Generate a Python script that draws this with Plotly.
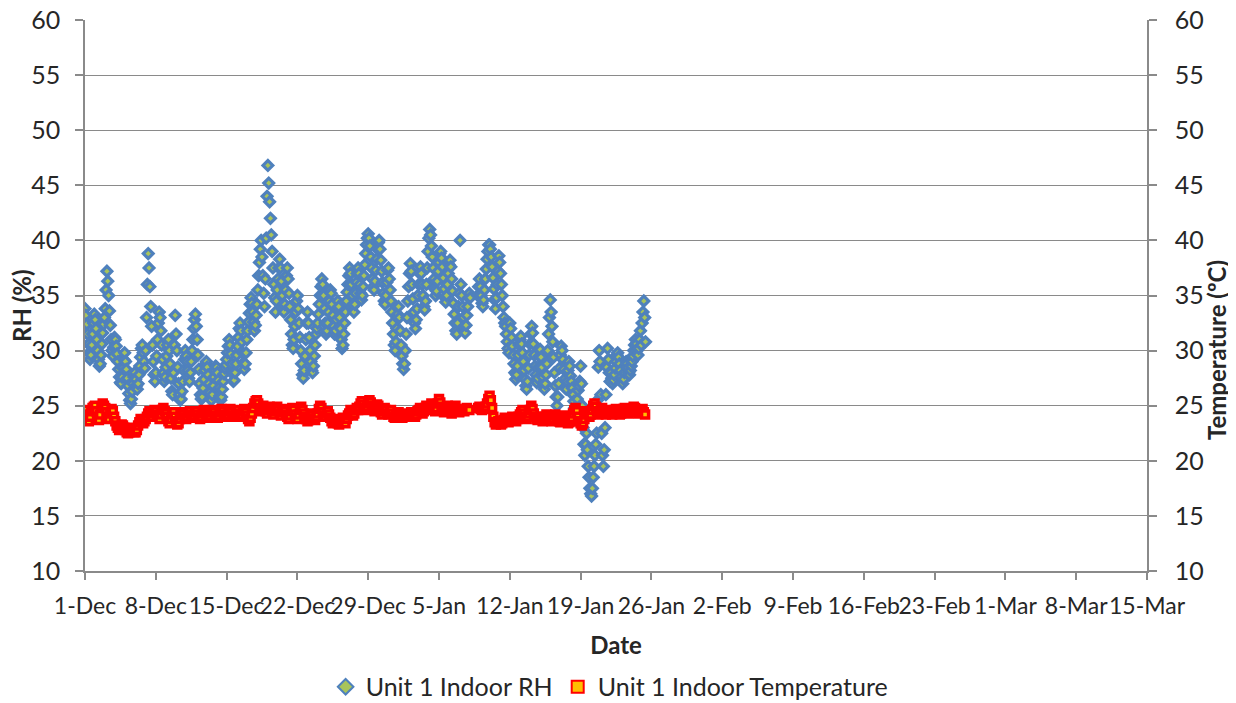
import pandas as pd
import plotly.graph_objects as go

# Unit 1 Indoor RH (%), 2-hourly readings starting 1-Dec-2011, grouped by week
rh_wk1 = [33.8, 33.2, 32.4, 31.5, 30.6, 29.8, 29.2, 29.6, 30.5, 31.5, 32.5, 33.3,
          32.8, 32.0, 31.0, 30.0, 29.2, 28.6, 28.8, 29.6, 30.6, 31.6, 32.4, 33.0,
          33.8, 35.5, 37.2, 36.3, 35.0, 33.6, 32.3, 31.0, 30.0, 29.5, 30.3, 31.2,
          31.0, 30.4, 29.7, 29.0, 28.3, 27.6, 27.1, 27.0, 27.6, 28.4, 29.2, 29.8,
          29.0, 28.3, 27.5, 26.8, 26.1, 25.5, 25.2, 25.6, 26.3, 27.0, 27.6, 28.0,
          27.4, 26.8, 26.5, 27.0, 27.8, 28.6, 29.4, 30.2, 30.5, 29.8, 29.0, 28.4,
          30.0, 33.0, 36.0, 38.8, 37.5, 35.8, 34.0, 32.2, 30.5, 29.0, 27.8, 27.2]
rh_wk2 = [28.0, 29.5, 31.0, 32.5, 33.5, 33.0, 31.8, 30.5, 29.2, 28.0, 27.2, 27.6,
          28.5, 29.5, 30.5, 31.0, 30.0, 28.8, 27.5, 26.3, 26.0, 28.0, 30.5, 33.2,
          31.5, 30.0, 28.5, 27.0, 26.0, 25.5, 25.6, 26.3, 27.2, 28.2, 29.2, 30.0,
          29.5, 29.0, 28.2, 27.5, 27.2, 28.0, 29.0, 30.0, 31.0, 32.0, 32.8, 33.3,
          32.2, 31.0, 29.6, 28.3, 27.0, 26.0, 25.6, 25.8, 26.6, 27.4, 28.2, 28.8,
          29.0, 28.5, 27.8, 27.0, 26.2, 25.6, 25.5, 26.0, 26.8, 27.6, 28.2, 28.6,
          28.5, 28.0, 27.3, 26.6, 25.9, 25.5, 25.8, 26.5, 27.2, 27.9, 28.4, 28.7]
rh_wk3 = [29.2, 29.8, 30.4, 31.0, 30.5, 29.7, 28.8, 27.9, 27.2, 27.3, 28.0, 28.8,
          29.6, 30.4, 31.2, 32.0, 32.5, 31.8, 30.8, 29.8, 28.9, 28.3, 28.8, 29.8,
          31.0, 31.8, 32.6, 33.4, 34.2, 34.8, 34.3, 33.5, 32.6, 31.8, 32.3, 33.2,
          34.2, 35.5, 36.8, 38.0, 39.2, 40.0, 38.5, 36.8, 35.2, 34.0, 36.5, 40.2,
          44.0, 46.8, 45.2, 43.5, 42.0, 40.5, 39.0, 37.5, 36.0, 34.8, 33.5, 34.5,
          35.5, 36.5, 37.5, 38.3, 37.5, 36.3, 35.0, 34.0, 33.5, 34.2, 35.5, 36.8,
          37.5, 36.5, 35.2, 34.0, 32.8, 31.5, 30.5, 30.2, 31.0, 32.2, 33.5, 34.5]
rh_wk4 = [35.0, 33.8, 32.5, 31.2, 30.0, 28.8, 27.8, 27.5, 28.2, 29.5, 31.0, 32.5,
          33.5, 32.5, 31.2, 30.0, 29.0, 28.2, 28.0, 28.6, 29.5, 30.5, 31.5, 32.0,
          32.5, 33.3, 34.2, 35.0, 35.8, 36.5, 36.0, 35.0, 33.8, 32.5, 31.5, 31.8,
          32.5, 33.5, 34.5, 35.5, 35.2, 34.2, 33.2, 32.2, 31.5, 31.8, 32.8, 33.8,
          34.5, 34.0, 33.0, 32.0, 31.0, 30.2, 30.5, 31.5, 32.5, 33.5, 34.5, 35.3,
          36.0, 36.8, 37.5, 37.0, 36.0, 35.0, 34.0, 33.5, 34.2, 35.2, 36.2, 37.0,
          37.5, 37.0, 36.0, 35.2, 34.6, 35.0, 35.8, 36.8, 37.8, 38.8, 39.6, 40.2]
rh_wk5 = [40.6, 40.2, 39.5, 38.5, 37.5, 36.5, 35.8, 35.5, 36.3, 37.3, 38.3, 39.2,
          39.8, 40.0, 39.2, 38.2, 37.2, 36.2, 35.2, 34.5, 34.2, 35.0, 36.2, 37.3,
          37.5, 36.5, 35.5, 34.5, 33.5, 32.5, 31.5, 30.5, 30.0, 30.8, 32.0, 33.3,
          34.0, 33.0, 31.8, 30.5, 29.5, 28.8, 28.3, 28.8, 30.0, 31.5, 33.0, 34.5,
          35.8, 37.0, 37.9, 37.2, 36.0, 34.7, 33.5, 32.5, 32.0, 32.8, 33.8, 35.0,
          36.0, 37.0, 37.6, 37.0, 36.0, 35.0, 34.0, 33.7, 34.5, 36.0, 37.5, 39.0,
          40.2, 41.0, 40.5, 39.5, 38.5, 37.5, 36.5, 35.6, 35.0, 35.4, 36.3, 37.2]
rh_wk6 = [38.0, 38.8, 39.0, 38.4, 37.6, 36.6, 35.6, 34.8, 34.4, 35.0, 36.0, 37.0,
          37.8, 38.2, 37.6, 36.5, 35.4, 34.3, 33.3, 32.5, 31.8, 31.5, 32.5, 34.0,
          35.2, 40.0, 36.0, 35.0, 34.0, 33.0, 32.2, 31.6, 32.3, 33.2, 34.0, 34.8,
          35.2, 34.8, None, None, None, None, None, None, None, None, 35.0, 35.8,
          36.5, 35.8, 35.0, 34.3, 34.0, 34.6, 35.5, 36.5, 37.4, 38.3, 39.0, 39.6,
          39.6, 39.2, 38.5, 37.6, 36.6, 35.6, 34.6, 33.8, 34.8, 36.0, 37.2, 38.6,
          38.0, 37.0, 36.0, 35.0, 34.0, 33.0, 32.5, 32.2, 31.5, 30.8, 30.2, 29.8]
rh_wk7 = [32.5, 32.0, 31.2, 30.4, 29.6, 28.8, 28.0, 27.4, 27.8, 28.6, 29.6, 30.5,
          31.0, 31.3, 30.6, 29.8, 29.0, 28.2, 27.4, 26.8, 26.5, 27.2, 28.4, 29.6,
          30.6, 31.5, 32.2, 31.6, 30.6, 29.6, 28.6, 27.8, 27.1, 27.5, 28.5, 29.5,
          30.1, 29.4, 28.5, 27.6, 26.8, 26.5, 27.0, 27.8, 28.8, 30.0, 31.5, 33.0,
          34.6, 33.5, 32.2, 30.8, 29.4, 28.0, 26.8, 25.8, 25.0, 25.8, 27.0, 28.4,
          29.6, 30.4, 30.0, 29.2, 28.3, 27.4, 26.6, 26.5, 27.2, 28.2, 29.0, 28.6,
          27.7, 27.2, 26.6, 26.0, 25.4, 24.8, 24.4, 24.8, 25.6, 26.4, 26.8, 27.2]
rh_wk8 = [28.6, 27.0, 25.0, 23.0, 21.5, 20.5, 21.5, 22.5, 21.0, 19.5, 18.5, 17.5,
          17.0, 16.8, 17.5, 18.5, 19.5, 20.5, 21.5, 22.5, 25.5, 28.5, 30.0, 29.0,
          26.0, 22.5, 20.5, 19.5, 21.0, 23.0, 26.0, 28.5, 30.2, 29.2, 28.0, 27.2,
          28.0, 27.5, 27.0, 27.3, 27.8, 28.4, 29.0, 29.6, 29.8, 29.4, 28.8, 28.2,
          27.6, 27.2, 27.0, 27.4, 28.0, 28.6, 29.0, 28.8, 28.4, 28.0, 27.8, 28.2,
          28.6, 29.0, 29.5, 30.0, 30.5, 31.0, 30.6, 30.0, 29.6, 30.2, 31.0, 31.8,
          30.5, 32.5, 33.5, 34.5, 33.0, 30.8]

# Unit 1 Indoor Temperature (deg C), 3-hourly readings starting 1-Dec-2011
temp_wk1 = [24.6, 24.2, 23.8, 23.6, 24.0, 24.5, 24.8, 24.9,
            25.0, 24.5, 24.0, 23.7, 24.2, 24.8, 25.2, 25.0,
            24.8, 24.4, 24.0, 23.8, 24.3, 24.7, 24.5, 24.0,
            23.6, 23.2, 23.0, 22.8, 23.0, 23.3, 23.2, 23.0,
            22.8, 22.6, 22.5, 22.6, 22.8, 23.0, 22.8, 22.6,
            22.6, 22.8, 23.2, 23.5, 23.8, 23.6, 23.4, 23.6,
            23.8, 24.0, 24.3, 24.5, 24.2, 24.0, 24.3, 24.6]
temp_wk2 = [24.5, 24.2, 24.0, 23.8, 24.2, 24.6, 24.8, 24.5,
            24.3, 24.0, 23.6, 23.4, 23.8, 24.2, 24.4, 24.0,
            23.6, 23.3, 23.4, 23.8, 24.1, 24.4, 24.2, 23.9,
            23.8, 24.0, 24.3, 24.5, 24.2, 23.9, 24.1, 24.4,
            24.5, 24.2, 23.9, 23.8, 24.0, 24.3, 24.6, 24.4,
            24.2, 24.0, 23.9, 24.1, 24.4, 24.6, 24.4, 24.1,
            24.0, 23.9, 24.1, 24.4, 24.7, 24.5, 24.2, 24.0]
temp_wk3 = [24.0, 24.2, 24.5, 24.7, 24.4, 24.1, 24.0, 24.2,
            24.4, 24.6, 24.3, 24.0, 24.2, 24.5, 24.7, 24.4,
            24.1, 23.8, 23.6, 23.9, 24.3, 24.8, 25.2, 25.4,
            25.5, 25.2, 24.8, 24.5, 24.7, 25.0, 24.8, 24.5,
            24.3, 24.6, 24.9, 24.7, 24.4, 24.2, 24.5, 24.8,
            24.9, 24.6, 24.3, 24.1, 24.4, 24.7, 24.5, 24.2,
            24.0, 23.8, 24.1, 24.5, 24.8, 24.6, 24.2, 23.9]
temp_wk4 = [23.8, 24.2, 24.6, 24.9, 24.6, 24.3, 24.0, 23.8,
            23.6, 23.7, 24.0, 24.3, 24.1, 23.8, 23.7, 24.0,
            24.3, 24.7, 25.0, 24.8, 24.4, 24.1, 24.0, 24.3,
            24.5, 24.2, 23.9, 23.6, 23.4, 23.5, 23.8, 23.6,
            23.4, 23.3, 23.5, 23.7, 23.9, 23.6, 23.4, 23.8,
            24.1, 24.3, 24.6, 24.4, 24.1, 24.3, 24.6, 24.8,
            24.6, 24.9, 25.2, 25.4, 25.1, 24.8, 24.6, 24.9]
temp_wk5 = [25.2, 25.5, 25.3, 25.0, 24.7, 24.5, 24.8, 25.1,
            25.0, 24.7, 24.4, 24.2, 24.5, 24.8, 24.6, 24.3,
            24.2, 24.4, 24.6, 24.3, 24.0, 23.9, 24.1, 24.3,
            24.4, 24.2, 24.0, 23.9, 24.1, 24.3, 24.2, 24.0,
            24.0, 24.2, 24.4, 24.3, 24.1, 24.0, 24.2, 24.5,
            24.6, 24.8, 24.5, 24.3, 24.5, 24.8, 25.0, 24.8,
            24.6, 24.9, 25.2, 25.0, 24.7, 24.5, 24.8, 25.2]
temp_wk6 = [25.6, 25.3, 24.9, 24.6, 24.4, 24.6, 24.9, 25.0,
            24.8, 24.5, 24.3, 24.5, 24.8, 25.0, 24.7, 24.5,
            24.4, None, 24.6, None, 24.5, None, 24.8, None,
            24.6, None, None, None, None, None, None, 24.8,
            24.9, 24.7, 24.6, 24.8, 24.7, 24.9, 25.2, 25.6,
            25.9, 25.5, 24.8, 24.0, 23.5, 23.3, 23.4, 23.6,
            23.5, 23.3, 23.4, 23.7, 23.9, 23.8, 23.6, 23.5]
temp_wk7 = [23.7, 23.8, 24.0, 23.9, 23.7, 23.6, 23.8, 24.0,
            24.2, 24.4, 24.6, 24.3, 24.0, 23.8, 24.0, 24.3,
            24.6, 25.0, 24.7, 24.3, 24.0, 23.8, 23.7, 23.9,
            24.0, 23.8, 23.6, 23.7, 24.0, 24.2, 24.0, 23.8,
            23.7, 23.6, 23.8, 24.1, 24.2, 24.0, 23.8, 23.6,
            23.5, 23.6, 23.9, 24.1, 23.9, 23.6, 23.4, 23.5,
            23.6, 23.9, 24.3, 24.6, 24.8, 24.5, 24.0, 23.6]
temp_wk8 = [23.4, 23.2, 23.4, 23.8, 24.2, 24.5, 24.3, 24.0,
            24.2, 24.6, 25.0, 25.2, 24.9, 24.5, 24.2, 24.4,
            24.6, 24.8, 24.5, 24.3, 24.2, 24.4, 24.6, 24.5,
            24.3, 24.2, 24.4, 24.6, 24.7, 24.5, 24.3, 24.2,
            24.3, 24.5, 24.7, 24.8, 24.6, 24.4, 24.3, 24.4,
            24.5, 24.7, 24.9, 24.8, 24.6, 24.5, 24.3, 24.4,
            24.5, 24.7, 24.4, 24.2]

x_start = "2011-12-01"
x_end = "2012-03-15"
y_ticks = [10, 15, 20, 25, 30, 35, 40, 45, 50, 55, 60]

rh = rh_wk1 + rh_wk2 + rh_wk3 + rh_wk4 + rh_wk5 + rh_wk6 + rh_wk7 + rh_wk8
temp = temp_wk1 + temp_wk2 + temp_wk3 + temp_wk4 + temp_wk5 + temp_wk6 + temp_wk7 + temp_wk8
t_rh = pd.date_range(x_start, periods=len(rh), freq="2h")
t_temp = pd.date_range(x_start, periods=len(temp), freq="3h")

FONT = "Lato"
TXT = "#262626"
GRID = "#8a8a8a"

fig = go.Figure()
fig.add_trace(go.Scatter(
    x=t_rh, y=rh, mode="markers", name="Unit 1 Indoor RH",
    marker=dict(symbol="diamond", size=7.5, color="#a8c45a",
                line=dict(color="#4f81bd", width=3.2)),
    yaxis="y"))
fig.add_trace(go.Scatter(
    x=t_temp, y=temp, mode="markers", name="Unit 1 Indoor Temperature",
    marker=dict(symbol="square", size=7, color="#ffc000",
                line=dict(color="#ff0000", width=3.5)),
    yaxis="y2"))

# figure is taller than the window so that the legend never pushes the margins;
# the extra rows fall below the visible 703 px
fig.update_layout(
    width=1236, height=730,
    margin=dict(l=77, r=97, t=12, b=167),
    paper_bgcolor="white", plot_bgcolor="white",
    font=dict(family=FONT, size=22, color=TXT),
    showlegend=True,
    legend=dict(orientation="h", x=0.494, xanchor="center", y=-0.2105, yanchor="middle",
                font=dict(family=FONT, size=25, color=TXT),
                itemsizing="constant", bgcolor="rgba(0,0,0,0)"),
    xaxis=dict(
        type="date", range=[x_start, x_end],
        tickmode="linear", tick0=x_start, dtick=7 * 86400000,
        tickformat="%-d-%b", tickangle=0,
        showgrid=False, showline=True, linecolor=GRID, linewidth=1.5,
        ticks="outside", ticklen=7, tickcolor=GRID, tickwidth=1.5,
        ticklabelstandoff=7, ticklabeloverflow="allow",
        tickfont=dict(family=FONT, size=23, color=TXT),
        title=dict(text="<b>Date</b>", font=dict(family=FONT, size=24, color=TXT),
                   standoff=19),
        zeroline=False, automargin=False),
    yaxis=dict(
        range=[10, 60], tickvals=y_ticks,
        showgrid=True, gridcolor=GRID, gridwidth=1.3,
        showline=True, linecolor=GRID, linewidth=1.5,
        ticks="outside", ticklen=8, tickcolor=GRID, tickwidth=1.5,
        ticklabelstandoff=10, ticklabeloverflow="allow",
        tickfont=dict(family=FONT, size=25, color=TXT),
        zeroline=False, automargin=False),
    yaxis2=dict(
        range=[10, 60], tickvals=y_ticks, overlaying="y", side="right",
        showgrid=False, showline=True, linecolor=GRID, linewidth=1.5,
        ticks="outside", ticklen=8, tickcolor=GRID, tickwidth=1.5,
        ticklabelstandoff=13, ticklabeloverflow="allow",
        tickfont=dict(family=FONT, size=25, color=TXT),
        zeroline=False, automargin=False),
    annotations=[
        dict(text="<b>RH (%)</b>", textangle=-90, xref="paper", yref="paper",
             x=-0.0593, y=0.481, xanchor="center", yanchor="middle", showarrow=False,
             font=dict(family=FONT, size=24, color=TXT)),
        dict(text="<b>Temperature (ºC)</b>", textangle=-90, xref="paper", yref="paper",
             x=1.065, y=0.401, xanchor="center", yanchor="middle", showarrow=False,
             font=dict(family=FONT, size=24, color=TXT)),
    ],
)

fig.write_html("out.html")
